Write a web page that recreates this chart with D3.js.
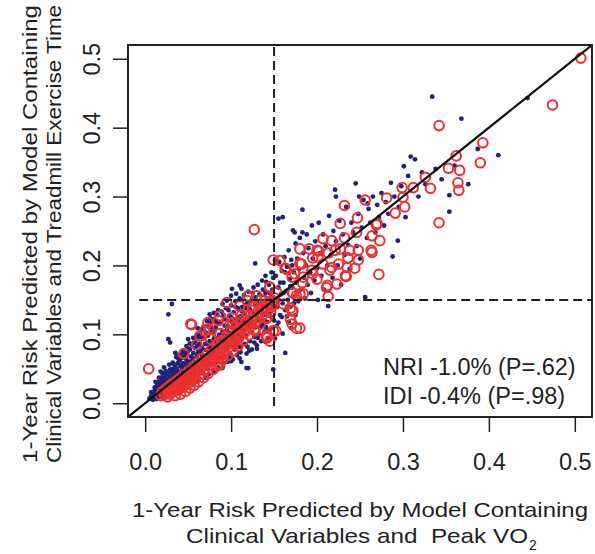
<!DOCTYPE html>
<html>
<head>
<meta charset="utf-8">
<script src="https://cdn.jsdelivr.net/npm/d3@7"></script>
<style>
  body { margin: 0; background: #fff; }
  text { font-family: "Liberation Sans", Arial, sans-serif; fill: #222; }
</style>
</head>
<body>
<div id="scatter"></div>
<script>
// tick values and annotation text
var xTicks = [0.0, 0.1, 0.2, 0.3, 0.4, 0.5];
var yTicks = [0.0, 0.1, 0.2, 0.3, 0.4, 0.5];
var cutoff = 0.15;
var statLines = ["NRI -1.0% (P=.62)", "IDI -0.4% (P=.98)"];

// patients without event (blue dots): [peak VO2 model risk, treadmill model risk]
var bluePts = [
  [0.005,0.007],[0.007,0.011],[0.008,0.006],[0.009,0.014],[0.010,0.010],[0.011,0.018],[0.012,0.008],[0.012,0.015],
  [0.013,0.021],[0.014,0.012],[0.015,0.018],[0.015,0.025],[0.016,0.014],[0.017,0.022],[0.018,0.029],[0.018,0.016],
  [0.019,0.024],[0.020,0.033],[0.020,0.019],[0.021,0.027],[0.022,0.014],[0.022,0.036],[0.023,0.023],[0.024,0.030],
  [0.024,0.040],[0.025,0.018],[0.026,0.034],[0.026,0.026],[0.027,0.043],[0.028,0.030],[0.028,0.021],[0.029,0.038],
  [0.030,0.046],[0.030,0.025],[0.031,0.033],[0.032,0.041],[0.032,0.050],[0.033,0.028],[0.034,0.037],[0.034,0.046],
  [0.035,0.054],[0.036,0.031],[0.036,0.042],[0.037,0.050],[0.038,0.024],[0.038,0.058],[0.039,0.035],[0.040,0.046],
  [0.040,0.062],[0.041,0.054],[0.042,0.029],[0.042,0.040],[0.043,0.066],[0.044,0.049],[0.044,0.058],[0.045,0.034],
  [0.046,0.070],[0.046,0.044],[0.047,0.055],[0.048,0.063],[0.048,0.038],[0.049,0.074],[0.050,0.050],[0.050,0.029],
  [0.051,0.060],[0.052,0.078],[0.052,0.042],[0.053,0.068],[0.054,0.054],[0.054,0.085],[0.055,0.035],[0.056,0.073],
  [0.056,0.062],[0.057,0.047],[0.058,0.090],[0.058,0.080],[0.059,0.056],[0.060,0.068],[0.060,0.040],[0.061,0.095],
  [0.062,0.076],[0.062,0.051],[0.063,0.086],[0.064,0.063],[0.064,0.100],[0.065,0.045],[0.066,0.081],[0.066,0.070],
  [0.067,0.057],[0.068,0.094],[0.068,0.106],[0.069,0.066],[0.070,0.050],[0.070,0.086],[0.071,0.077],[0.072,0.112],
  [0.072,0.060],[0.073,0.098],[0.074,0.042],[0.074,0.072],[0.075,0.090],[0.076,0.117],[0.076,0.055],[0.077,0.082],
  [0.078,0.104],[0.078,0.066],[0.079,0.048],[0.080,0.094],[0.080,0.122],[0.081,0.075],[0.082,0.060],[0.082,0.110],
  [0.083,0.088],[0.084,0.070],[0.084,0.128],[0.085,0.052],[0.086,0.099],[0.086,0.081],[0.087,0.116],[0.088,0.064],
  [0.088,0.092],[0.089,0.133],[0.090,0.074],[0.090,0.105],[0.091,0.058],[0.092,0.087],[0.092,0.122],[0.093,0.068],
  [0.094,0.097],[0.094,0.138],[0.095,0.080],[0.096,0.112],[0.096,0.060],[0.097,0.090],[0.098,0.127],[0.098,0.072],
  [0.099,0.102],[0.100,0.084],[0.100,0.142],
  [0.101,0.118],[0.102,0.064],[0.102,0.095],[0.103,0.132],[0.104,0.078],[0.104,0.108],[0.105,0.148],[0.106,0.088],
  [0.106,0.122],[0.107,0.070],[0.108,0.100],[0.108,0.138],[0.109,0.112],[0.110,0.082],[0.110,0.152],[0.111,0.126],
  [0.112,0.094],[0.112,0.060],[0.113,0.140],[0.114,0.106],[0.114,0.118],[0.115,0.157],[0.116,0.086],[0.116,0.130],
  [0.117,0.098],[0.118,0.145],[0.118,0.072],[0.119,0.112],[0.120,0.051],[0.120,0.162],[0.121,0.124],[0.122,0.090],
  [0.122,0.136],[0.123,0.104],[0.124,0.150],[0.124,0.078],[0.125,0.118],[0.126,0.168],[0.127,0.096],[0.127,0.130],
  [0.128,0.203],[0.128,0.110],[0.129,0.145],[0.130,0.084],[0.131,0.172],[0.131,0.122],[0.132,0.100],[0.133,0.158],
  [0.134,0.136],[0.135,0.090],[0.136,0.178],[0.136,0.114],[0.137,0.148],[0.138,0.128],[0.139,0.104],[0.140,0.185],
  [0.140,0.160],[0.141,0.140],[0.142,0.118],[0.143,0.095],[0.144,0.172],[0.145,0.152],[0.145,0.130],[0.146,0.108],
  [0.147,0.190],[0.148,0.165],[0.149,0.142],[0.149,0.049],[0.150,0.120],
  [0.007,0.016],[0.009,0.005],[0.011,0.023],[0.013,0.006],[0.014,0.027],[0.016,0.031],[0.017,0.009],[0.019,0.037],
  [0.021,0.011],[0.023,0.044],[0.025,0.031],[0.027,0.015],[0.029,0.049],[0.031,0.022],[0.033,0.057],[0.035,0.035],
  [0.037,0.018],[0.039,0.064],[0.041,0.045],[0.043,0.052],[0.045,0.072],[0.047,0.041],[0.049,0.058],[0.051,0.079],
  [0.053,0.050],[0.055,0.066],[0.057,0.088],[0.059,0.037],[0.061,0.072],[0.063,0.058],[0.065,0.096],[0.067,0.078],
  [0.069,0.052],[0.071,0.102],[0.073,0.064],[0.075,0.081],[0.077,0.110],[0.079,0.058],[0.081,0.090],[0.083,0.118],
  [0.085,0.076],[0.087,0.062],[0.089,0.100],[0.091,0.128],[0.093,0.082],[0.095,0.106],[0.097,0.135],[0.099,0.066],
  [0.101,0.092],[0.103,0.115],[0.105,0.140],[0.107,0.085],[0.109,0.125],[0.111,0.074],[0.113,0.150],[0.115,0.098],
  [0.117,0.138],[0.119,0.082],[0.121,0.146],[0.123,0.116],[0.125,0.160],[0.127,0.088],[0.129,0.128],[0.131,0.095],
  [0.133,0.148],[0.135,0.110],[0.137,0.165],[0.139,0.120],[0.141,0.176],[0.143,0.106],[0.145,0.160],[0.147,0.125],
  [0.149,0.182],[0.151,0.138],[0.153,0.112],[0.155,0.150],[0.157,0.175],[0.159,0.125],[0.161,0.160],[0.163,0.190],
  [0.165,0.140],[0.167,0.118],[0.169,0.170],[0.171,0.200],[0.173,0.145],[0.175,0.128],
  [0.0135,0.0175],[0.0185,0.0125],[0.0245,0.0265],[0.0275,0.0345],[0.0325,0.0235],[0.0365,0.0465],[0.0395,0.0405],
  [0.0445,0.0385],[0.0485,0.0455],[0.0525,0.0605],[0.0565,0.0525],[0.0605,0.0835],[0.0645,0.0745],[0.0685,0.0605],
  [0.0725,0.0865],[0.0765,0.0705],[0.0805,0.1035],[0.0845,0.0945],[0.0885,0.0815],[0.0925,0.1125],[0.0965,0.0985],
  [0.1005,0.1245],[0.1045,0.0925],[0.1085,0.1185],[0.1125,0.1335],[0.1165,0.1095],[0.1205,0.1405],[0.1245,0.1025],
  [0.1285,0.1535],[0.1325,0.1205],[0.1365,0.1425],[0.1405,0.1105],[0.1445,0.1385],[0.1485,0.1545],
  [0.012,0.031],[0.016,0.037],[0.020,0.043],[0.024,0.047],[0.028,0.056],[0.032,0.059],[0.036,0.067],[0.040,0.071],
  [0.044,0.075],[0.048,0.083],[0.052,0.087],[0.056,0.095],[0.060,0.099],[0.064,0.107],[0.068,0.111],[0.072,0.119],
  [0.076,0.123],[0.080,0.131],[0.085,0.135],[0.090,0.144],[0.095,0.149],[0.100,0.156],[0.106,0.159],[0.112,0.166],
  [0.018,0.046],[0.022,0.052],[0.035,0.073],[0.050,0.093],[0.061,0.109],[0.075,0.129],[0.101,0.166],[0.110,0.171],
  [0.061,0.031],[0.070,0.037],[0.080,0.046],[0.090,0.051],[0.100,0.061],[0.110,0.065],[0.121,0.076],[0.130,0.079],
  [0.140,0.089],[0.151,0.094],[0.160,0.101],[0.170,0.109],[0.165,0.126],[0.155,0.117],
  [0.031,0.144],[0.027,0.129],[0.027,0.093],[0.029,0.088],[0.118,0.051],[0.163,0.073],
  [0.152,0.185],[0.154,0.140],[0.155,0.168],[0.156,0.205],[0.157,0.128],[0.158,0.158],[0.159,0.192],[0.160,0.145],
  [0.161,0.175],[0.162,0.212],[0.163,0.135],[0.164,0.163],[0.165,0.198],[0.166,0.150],[0.167,0.222],[0.168,0.180],
  [0.169,0.140],[0.170,0.208],[0.171,0.168],[0.172,0.251],[0.173,0.190],[0.174,0.155],[0.175,0.232],[0.176,0.175],
  [0.177,0.210],[0.178,0.148],[0.179,0.195],[0.180,0.240],[0.181,0.165],[0.183,0.281],[0.184,0.218],[0.185,0.182],
  [0.186,0.152],[0.187,0.200],[0.188,0.245],[0.189,0.172],[0.190,0.225],[0.192,0.190],[0.193,0.160],[0.194,0.258],
  [0.195,0.210],[0.197,0.178],[0.198,0.235],[0.200,0.196],[0.201,0.150],[0.202,0.262],[0.204,0.218],[0.205,0.185],
  [0.207,0.245],[0.208,0.165],[0.210,0.228],[0.212,0.200],[0.213,0.141],[0.214,0.272],[0.216,0.215],[0.218,0.182],
  [0.219,0.250],[0.221,0.310],[0.222,0.235],[0.224,0.200],[0.226,0.265],[0.228,0.172],[0.230,0.245],[0.232,0.215],
  [0.234,0.285],[0.236,0.230],[0.238,0.195],[0.240,0.262],[0.242,0.248],[0.245,0.319],[0.246,0.228],[0.248,0.275],
  [0.250,0.210],[0.252,0.255],[0.254,0.295],[0.256,0.154],[0.258,0.240],
  [0.160,0.270],[0.174,0.248],[0.183,0.248],[0.155,0.268],[0.151,0.207],[0.249,0.300],[0.259,0.290],[0.222,0.300],
  [0.260,0.282],[0.262,0.262],[0.265,0.300],[0.268,0.248],[0.270,0.288],[0.272,0.270],[0.275,0.305],[0.278,0.258],
  [0.280,0.292],[0.283,0.275],[0.286,0.320],[0.288,0.213],[0.290,0.300],[0.294,0.236],[0.295,0.285],[0.298,0.315],
  [0.301,0.344],[0.303,0.270],[0.306,0.330],[0.309,0.358],[0.314,0.354],[0.318,0.300],[0.322,0.335],[0.326,0.318],
  [0.334,0.445],[0.338,0.340],[0.345,0.325],[0.354,0.302],[0.354,0.278],[0.360,0.345],[0.368,0.413],[0.376,0.318],
  [0.387,0.369],[0.411,0.360],[0.445,0.443]
];

// patients with event (red circles)
var redPts = [
  [0.018,0.011],[0.020,0.017],[0.022,0.012],[0.024,0.021],[0.026,0.009],[0.026,0.016],[0.028,0.025],[0.029,0.013],
  [0.031,0.020],[0.032,0.029],[0.033,0.017],[0.035,0.011],[0.035,0.024],[0.037,0.033],[0.038,0.019],[0.039,0.028],
  [0.041,0.013],[0.041,0.037],[0.043,0.023],[0.044,0.032],[0.045,0.042],[0.047,0.017],[0.048,0.027],[0.049,0.036],
  [0.051,0.047],[0.052,0.022],[0.053,0.031],[0.054,0.041],[0.056,0.053],[0.057,0.026],[0.058,0.036],[0.060,0.047],
  [0.061,0.059],[0.062,0.031],[0.064,0.042],[0.065,0.053],[0.066,0.065],[0.068,0.037],[0.069,0.048],[0.070,0.060],
  [0.072,0.071],[0.073,0.043],[0.074,0.054],[0.076,0.066],[0.077,0.078],[0.079,0.049],[0.080,0.061],[0.081,0.072],
  [0.083,0.085],[0.084,0.056],[0.086,0.067],[0.087,0.079],[0.089,0.091],[0.090,0.063],[0.091,0.074],[0.093,0.086],
  [0.094,0.097],[0.096,0.069],[0.097,0.081],[0.099,0.093],[0.100,0.105],[0.102,0.076],[0.103,0.088],[0.105,0.099],
  [0.106,0.111],[0.108,0.083],[0.109,0.095],[0.111,0.107],[0.112,0.119],[0.114,0.091],[0.116,0.103],[0.117,0.115],
  [0.119,0.127],[0.121,0.099],[0.122,0.111],[0.124,0.123],[0.125,0.135],[0.127,0.107],[0.129,0.119],[0.130,0.131],
  [0.132,0.143],[0.134,0.115],[0.136,0.127],[0.137,0.139],[0.139,0.149],[0.141,0.123],[0.143,0.135],[0.144,0.147],
  [0.146,0.131],[0.148,0.141],[0.150,0.153],
  [0.023,0.016],[0.027,0.020],[0.030,0.027],[0.034,0.022],[0.037,0.026],[0.040,0.030],[0.043,0.036],[0.046,0.031],
  [0.050,0.040],[0.053,0.044],[0.056,0.040],[0.059,0.052],[0.063,0.048],[0.067,0.056],[0.071,0.064],[0.075,0.060],
  [0.078,0.070],[0.082,0.076],[0.085,0.080],[0.088,0.072],[0.092,0.080],[0.095,0.090],[0.098,0.086],[0.101,0.096],
  [0.104,0.092],[0.107,0.104],[0.110,0.100],[0.113,0.110],[0.118,0.108],[0.123,0.116],[0.126,0.126],[0.131,0.124],
  [0.135,0.136],[0.140,0.140],[0.145,0.142],[0.149,0.148],
  [0.064,0.098],[0.076,0.093],[0.087,0.101],[0.099,0.115],[0.060,0.085],[0.045,0.072],[0.112,0.128],[0.125,0.140],
  [0.135,0.150],
  [0.004,0.050],[0.053,0.115],[0.095,0.146],[0.120,0.156],[0.130,0.156],[0.145,0.169],[0.180,0.159],[0.171,0.134],
  [0.180,0.109],[0.171,0.115],[0.149,0.105],[0.142,0.095],[0.084,0.054],[0.033,0.020],[0.069,0.105],[0.073,0.117],
  [0.085,0.120],[0.101,0.124],[0.119,0.149],[0.128,0.105],[0.142,0.124],[0.164,0.195],[0.180,0.203],[0.176,0.109],
  [0.169,0.122],[0.172,0.134],[0.141,0.098],[0.110,0.141],[0.087,0.127],[0.102,0.117],[0.074,0.108],[0.145,0.090],
  [0.127,0.252],[0.054,0.114],[0.087,0.056],
  [0.507,0.501],[0.474,0.433],[0.342,0.403],[0.393,0.378],[0.390,0.349],[0.362,0.359],[0.353,0.341],[0.366,0.338],
  [0.326,0.328],[0.332,0.312],[0.364,0.320],[0.365,0.309],[0.299,0.313],[0.312,0.313],[0.281,0.298],[0.300,0.299],
  [0.302,0.285],[0.291,0.276],[0.342,0.262],[0.256,0.295],[0.232,0.287],[0.247,0.269],[0.227,0.261],[0.269,0.259],
  [0.246,0.248],[0.264,0.243],[0.273,0.236],[0.207,0.239],[0.217,0.236],[0.232,0.240],[0.180,0.224],[0.191,0.224],
  [0.202,0.221],[0.213,0.218],[0.227,0.224],[0.238,0.222],[0.248,0.222],[0.263,0.222],[0.236,0.211],[0.248,0.208],
  [0.225,0.202],[0.244,0.196],[0.215,0.193],[0.234,0.184],[0.272,0.187],[0.149,0.208],[0.157,0.207],[0.163,0.196],
  [0.171,0.183],[0.182,0.202],[0.194,0.193],[0.207,0.202],[0.184,0.183],[0.200,0.180],[0.211,0.168],[0.223,0.173],
  [0.213,0.155],[0.145,0.168],[0.153,0.161],[0.171,0.161],[0.176,0.156],[0.161,0.144],[0.152,0.105],[0.141,0.096],
  [0.264,0.219],[0.195,0.211],[0.183,0.175],[0.212,0.171],[0.233,0.185],[0.172,0.160],[0.184,0.159],[0.169,0.138],
  [0.217,0.197],[0.235,0.197],[0.195,0.188],[0.174,0.188],[0.201,0.212],[0.221,0.222],[0.270,0.261],[0.200,0.222]
];

// set the dimensions of the plotting box
var W = 595, H = 554;
var box = { left: 128, top: 45, right: 592, bottom: 417 };

var svg = d3.select("#scatter")
    .append("svg")
    .attr("width", W)
    .attr("height", H)
    .style("background-color", "#fff");

var x = d3.scaleLinear()
    .domain([-0.02, 0.52])
    .range([box.left, box.right]);

var y = d3.scaleLinear()
    .domain([-0.02, 0.52])
    .range([box.bottom, box.top]);

svg.append("clipPath")
    .attr("id", "plotclip")
    .append("rect")
    .attr("x", box.left)
    .attr("y", box.top)
    .attr("width", box.right - box.left)
    .attr("height", box.bottom - box.top);

// X axis
var gx = svg.append("g")
    .attr("transform", "translate(0," + box.bottom + ")")
    .call(d3.axisBottom(x).tickValues(xTicks).tickFormat(d3.format(".1f")).tickSize(15).tickPadding(21));
gx.select(".domain").remove();
gx.selectAll(".tick line").attr("stroke", "#222").attr("stroke-width", 1.5);
gx.selectAll(".tick text").attr("font-size", "23.5px").attr("fill", "#222")
    .style("font-family", "'Liberation Sans', Arial, sans-serif");

// Y axis, labels turned sideways
var gy = svg.append("g")
    .attr("transform", "translate(" + box.left + ",0)")
    .call(d3.axisLeft(y).tickValues(yTicks).tickFormat(d3.format(".1f")).tickSize(15));
gy.select(".domain").remove();
gy.selectAll(".tick line").attr("stroke", "#222").attr("stroke-width", 1.5);
gy.selectAll(".tick text")
    .attr("transform", "rotate(-90)")
    .attr("x", 0)
    .attr("y", -28)
    .attr("dy", null)
    .attr("text-anchor", "middle")
    .attr("font-size", "23.5px")
    .attr("fill", "#222")
    .style("font-family", "'Liberation Sans', Arial, sans-serif");

var plot = svg.append("g").attr("clip-path", "url(#plotclip)");

// Add blue dots
plot.append("g")
    .selectAll("circle")
    .data(bluePts)
    .enter()
    .append("circle")
    .attr("cx", d => x(d[0]))
    .attr("cy", d => y(d[1]))
    .attr("r", 2.4)
    .style("fill", "#1f2475");

// Add red circles
plot.append("g")
    .selectAll("circle")
    .data(redPts)
    .enter()
    .append("circle")
    .attr("cx", d => x(d[0]))
    .attr("cy", d => y(d[1]))
    .attr("r", 4.8)
    .style("fill", "none")
    .style("stroke", "#ec3030")
    .style("stroke-width", 2);

// identity line
plot.append("line")
    .attr("x1", x(-0.02)).attr("y1", y(-0.02))
    .attr("x2", x(0.52)).attr("y2", y(0.52))
    .attr("stroke", "#111")
    .attr("stroke-width", 2.2);

// 15% risk cut-offs
plot.append("line")
    .attr("x1", x(cutoff)).attr("y1", y(-0.004))
    .attr("x2", x(cutoff)).attr("y2", y(0.52))
    .attr("stroke", "#222").attr("stroke-width", 2)
    .attr("stroke-dasharray", "9,5");
plot.append("line")
    .attr("x1", x(-0.007)).attr("y1", y(cutoff))
    .attr("x2", x(0.52)).attr("y2", y(cutoff))
    .attr("stroke", "#222").attr("stroke-width", 2)
    .attr("stroke-dasharray", "9,5");

// plot box
svg.append("rect")
    .attr("x", box.left)
    .attr("y", box.top)
    .attr("width", box.right - box.left)
    .attr("height", box.bottom - box.top)
    .attr("fill", "none")
    .attr("stroke", "#222")
    .attr("stroke-width", 2);

// NRI / IDI text
svg.append("g")
    .selectAll("text")
    .data(statLines)
    .enter()
    .append("text")
    .attr("x", 383)
    .attr("y", (d, i) => 375 + i * 29)
    .attr("font-size", "23.5px")
    .text(d => d);

// X axis title
var cx = (box.left + box.right) / 2;
svg.append("text")
    .attr("x", cx)
    .attr("y", 517)
    .attr("text-anchor", "middle")
    .attr("font-size", "21px")
    .attr("textLength", 456)
    .attr("lengthAdjust", "spacingAndGlyphs")
    .text("1-Year Risk Predicted by Model Containing");

svg.append("text")
    .attr("x", cx - 3)
    .attr("y", 543)
    .attr("text-anchor", "middle")
    .attr("font-size", "21px")
    .attr("textLength", 342)
    .attr("lengthAdjust", "spacingAndGlyphs")
    .style("white-space", "pre")
    .text("Clinical Variables and  Peak VO");
svg.append("text")
    .attr("x", cx + 169)
    .attr("y", 550)
    .attr("font-size", "14px")
    .text("2");

// Y axis title
var cy = 234;
svg.append("text")
    .attr("transform", "translate(37," + cy + ") rotate(-90)")
    .attr("text-anchor", "middle")
    .attr("font-size", "21px")
    .attr("textLength", 458)
    .attr("lengthAdjust", "spacingAndGlyphs")
    .text("1-Year Risk Predicted by Model Containing");
svg.append("text")
    .attr("transform", "translate(61," + cy + ") rotate(-90)")
    .attr("text-anchor", "middle")
    .attr("font-size", "21px")
    .attr("textLength", 458)
    .attr("lengthAdjust", "spacingAndGlyphs")
    .text("Clinical Variables and Treadmill Exercise Time");
</script>
</body>
</html>
